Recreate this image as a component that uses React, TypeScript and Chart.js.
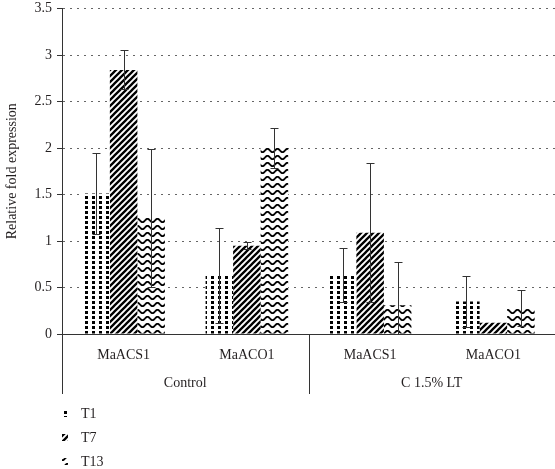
import React, { useEffect, useRef } from 'react';
import { Chart, registerables } from 'chart.js';

Chart.register(...registerables);

// ---- Data ----
const categories = ['MaACS1', 'MaACO1', 'MaACS1', 'MaACO1'];
const groups = ['Control', 'C 1.5% LT'];
const seriesNames = ['T1', 'T7', 'T13'];
const t1Values = [1.51, 0.63, 0.63, 0.35];
const t7Values = [2.84, 0.95, 1.09, 0.12];
const t13Values = [1.25, 2.0, 0.31, 0.28];
const t1Errors = [0.44, 0.51, 0.29, 0.27];
const t7Errors = [0.21, 0.04, 0.75, 0];
const t13Errors = [0.74, 0.22, 0.46, 0.19];
const yMin = 0;
const yMax = 3.5;
const yStep = 0.5;

const TEXT = '#231f20';
const FONT = "'Liberation Serif', 'DejaVu Serif', serif";

function makePattern(kind: string): CanvasPattern | string {
  const c = document.createElement('canvas');
  const ctx = c.getContext('2d');
  if (!ctx) return '#000';
  if (kind === 'dots') {
    c.width = 7; c.height = 5;
    ctx.fillStyle = '#fff'; ctx.fillRect(0, 0, 7, 5);
    ctx.fillStyle = '#000'; ctx.fillRect(1, 1, 3, 3);
  } else if (kind === 'diag') {
    const s = 6;
    c.width = s; c.height = s;
    ctx.fillStyle = '#fff'; ctx.fillRect(0, 0, s, s);
    ctx.strokeStyle = '#000'; ctx.lineWidth = 2.3;
    ctx.beginPath();
    ctx.moveTo(0, s); ctx.lineTo(s, 0);
    ctx.moveTo(-1, 1); ctx.lineTo(1, -1);
    ctx.moveTo(s - 1, s + 1); ctx.lineTo(s + 1, s - 1);
    ctx.stroke();
  } else {
    const w = 10, h = 7;
    c.width = w; c.height = h;
    ctx.fillStyle = '#fff'; ctx.fillRect(0, 0, w, h);
    ctx.strokeStyle = '#000'; ctx.lineWidth = 1.8;
    ctx.beginPath();
    for (let x = -1; x <= w + 1; x += 0.5) {
      const y = 3.5 + 1.7 * Math.sin((2 * Math.PI * x) / w);
      if (x === -1) ctx.moveTo(x, y); else ctx.lineTo(x, y);
    }
    ctx.stroke();
  }
  return ctx.createPattern(c, 'repeat') || '#000';
}

export default function App() {
  const ref = useRef<HTMLCanvasElement | null>(null);

  useEffect(() => {
    document.body.style.margin = '0';
    const canvas = ref.current;
    if (!canvas) return;
    const patterns = [makePattern('dots'), makePattern('diag'), makePattern('wave')];
    const values = [t1Values, t7Values, t13Values];
    const errors = [t1Errors, t7Errors, t13Errors];

    const errorBarPlugin = {
      id: 'errorBars',
      afterDatasetsDraw(chart: any) {
        const ctx = chart.ctx;
        const yScale = chart.scales.y;
        ctx.save();
        ctx.strokeStyle = '#333';
        ctx.lineWidth = 1;
        values.forEach((vals, di) => {
          const meta = chart.getDatasetMeta(di);
          meta.data.forEach((el: any, j: number) => {
            const e = errors[di][j];
            if (!e) return;
            const x = Math.round(el.x) + 0.5;
            const yTop = Math.round(yScale.getPixelForValue(vals[j] + e)) + 0.5;
            const yBot = Math.round(yScale.getPixelForValue(Math.max(vals[j] - e, 0))) + 0.5;
            ctx.beginPath();
            ctx.moveTo(x, yTop); ctx.lineTo(x, yBot);
            ctx.moveTo(x - 4, yTop); ctx.lineTo(x + 4, yTop);
            ctx.moveTo(x - 4, yBot); ctx.lineTo(x + 4, yBot);
            ctx.stroke();
          });
        });
        ctx.restore();
      },
    };

    const groupAxisPlugin = {
      id: 'groupAxis',
      afterDraw(chart: any) {
        const ctx = chart.ctx;
        const xs = chart.scales.x;
        const area = chart.chartArea;
        const b = area.bottom;
        const half = (xs.getPixelForValue(1) - xs.getPixelForValue(0)) / 2;
        const bounds = [
          xs.getPixelForValue(0) - half,
          xs.getPixelForValue(1) + half,
          xs.getPixelForValue(3) + half,
        ];
        ctx.save();
        ctx.strokeStyle = '#333';
        ctx.lineWidth = 1;
        ctx.beginPath();
        bounds.forEach((bx) => {
          const x = Math.round(bx) + 0.5;
          ctx.moveTo(x, b);
          ctx.lineTo(x, b + 60);
        });
        ctx.stroke();
        ctx.fillStyle = TEXT;
        ctx.font = `14px ${FONT}`;
        ctx.textAlign = 'center';
        ctx.textBaseline = 'middle';
        groups.forEach((g, gi) => {
          const cx = (xs.getPixelForValue(gi * 2) + xs.getPixelForValue(gi * 2 + 1)) / 2;
          ctx.fillText(g, cx, b + 49);
        });
        // Legend (vertical list)
        ctx.textAlign = 'left';
        seriesNames.forEach((name, i) => {
          const y = b + 80 + i * 24;
          ctx.fillStyle = patterns[i] as any;
          ctx.fillRect(area.left, y - 4, 6, 7);
          ctx.fillStyle = TEXT;
          ctx.fillText(name, area.left + 19, y);
        });
        ctx.restore();
      },
    };

    const chart = new Chart(canvas, {
      type: 'bar',
      data: {
        labels: categories,
        datasets: seriesNames.map((name, i) => ({
          label: name,
          data: values[i],
          backgroundColor: patterns[i] as any,
          borderWidth: 0,
          categoryPercentage: 0.67,
          barPercentage: 1.0,
        })),
      },
      options: {
        responsive: false,
        animation: false,
        layout: { padding: { top: 0, left: 0, right: 0, bottom: 0 } },
        plugins: {
          legend: { display: false },
          tooltip: { enabled: false },
        },
        scales: {
          x: {
            type: 'category',
            offset: true,
            grid: { display: false },
            border: { display: true, color: '#333', width: 1 },
            ticks: {
              color: TEXT,
              font: { family: FONT, size: 14 },
              padding: 5,
              maxRotation: 0,
            },
            afterFit(scale: any) { scale.height = 135; },
          },
          y: {
            min: yMin,
            max: yMax,
            ticks: {
              stepSize: yStep,
              color: TEXT,
              font: { family: FONT, size: 14, lineHeight: 0.5 },
              padding: 5,
              callback: (v: any) => String(v),
            },
            grid: {
              color: '#666',
              lineWidth: 1,
              tickLength: 5,
              tickColor: '#333',
              tickBorderDash: [],
            },
            border: { display: true, color: '#333', width: 1, dash: [2, 5] },
            title: {
              display: true,
              text: 'Relative fold expression',
              color: TEXT,
              font: { family: FONT, size: 14 },
              padding: { top: 4, bottom: 0 },
            },
            afterFit(scale: any) { scale.width = 62; },
          },
        },
      },
      plugins: [errorBarPlugin, groupAxisPlugin],
    });
    return () => chart.destroy();
  }, []);

  return (
    <div style={{ width: 555, height: 469 }}>
      <canvas ref={ref} width={555} height={469} style={{ display: 'block', width: 555, height: 469 }} />
    </div>
  );
}
